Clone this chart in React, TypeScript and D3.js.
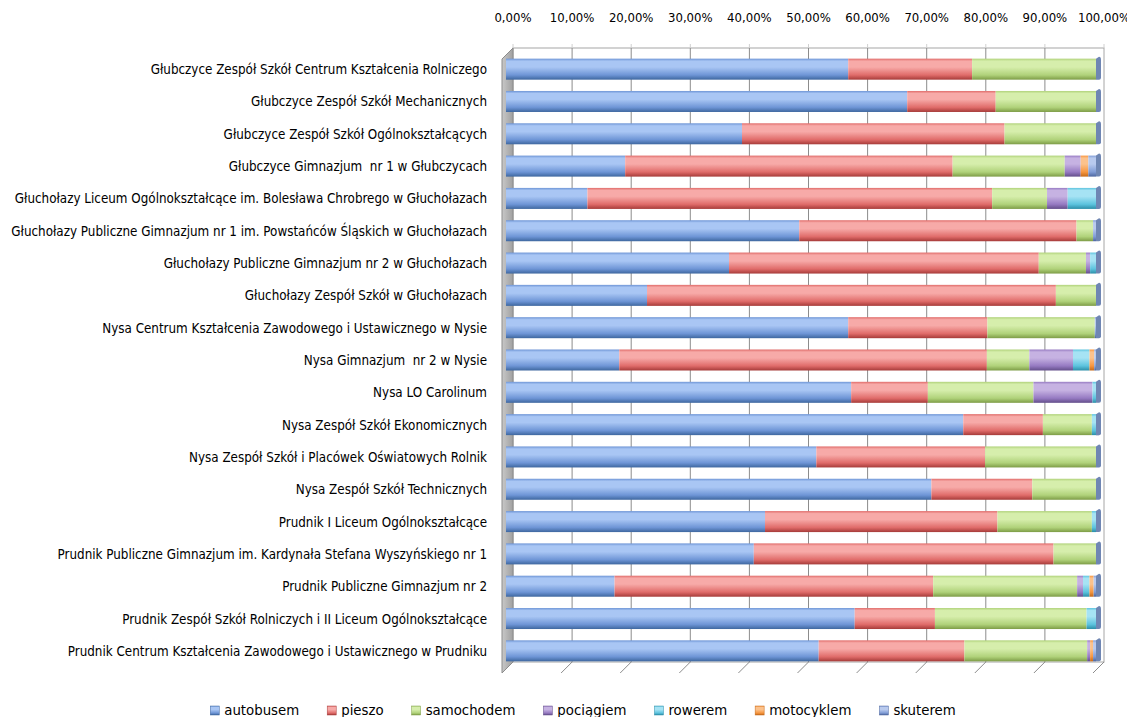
import React, { useEffect, useRef } from "react";
import * as d3 from "d3";

const categories = [
  "Głubczyce Zespół Szkół Centrum Kształcenia Rolniczego",
  "Głubczyce Zespół Szkół Mechanicznych",
  "Głubczyce Zespół Szkół Ogólnokształcących",
  "Głubczyce Gimnazjum  nr 1 w Głubczycach",
  "Głuchołazy Liceum Ogólnokształcące im. Bolesława Chrobrego w Głuchołazach",
  "Głuchołazy Publiczne Gimnazjum nr 1 im. Powstańców Śląskich w Głuchołazach",
  "Głuchołazy Publiczne Gimnazjum nr 2 w Głuchołazach",
  "Głuchołazy Zespół Szkół w Głuchołazach",
  "Nysa Centrum Kształcenia Zawodowego i Ustawicznego w Nysie",
  "Nysa Gimnazjum  nr 2 w Nysie",
  "Nysa LO Carolinum",
  "Nysa Zespół Szkół Ekonomicznych",
  "Nysa Zespół Szkół i Placówek Oświatowych Rolnik",
  "Nysa Zespół Szkół Technicznych",
  "Prudnik I Liceum Ogólnokształcące",
  "Prudnik Publiczne Gimnazjum im. Kardynała Stefana Wyszyńskiego nr 1",
  "Prudnik Publiczne Gimnazjum nr 2",
  "Prudnik Zespół Szkół Rolniczych i II Liceum Ogólnokształcące",
  "Prudnik Centrum Kształcenia Zawodowego i Ustawicznego w Prudniku",
];

const seriesNames = ["autobusem", "pieszo", "samochodem", "pociągiem", "rowerem", "motocyklem", "skuterem"];

const autobusem = [58, 68, 40, 20.2, 13.8, 49.7, 37.8, 23.9, 58, 19.2, 58.5, 77.5, 52.6, 72.1, 43.9, 42, 18.4, 59.1, 53];
const pieszo = [21, 15, 44.5, 55.5, 68.6, 47, 52.5, 69.3, 23.6, 62.3, 13, 13.5, 28.6, 17.1, 39.4, 50.8, 54, 13.6, 24.7];
const samochodem = [21, 17, 15.5, 19, 9.3, 2.8, 8, 6.8, 18.2, 7.2, 17.9, 8.3, 18.8, 10.8, 16, 7.2, 24.4, 25.7, 20.8];
const pociagiem = [0, 0, 0, 2.7, 3.5, 0, 0.7, 0, 0, 7.4, 10, 0, 0, 0, 0, 0, 1, 0, 0.5];
const rowerem = [0, 0, 0, 0, 4.8, 0, 1, 0, 0, 2.8, 0.6, 0.7, 0, 0, 0.7, 0, 1.1, 1.6, 0];
const motocyklem = [0, 0, 0, 1.3, 0, 0, 0, 0, 0, 0.8, 0, 0, 0, 0, 0, 0, 0.7, 0, 0.5];
const skuterem = [0, 0, 0, 1.3, 0, 0.5, 0, 0, 0.2, 0.3, 0, 0.5, 0, 0, 0, 0, 0.4, 0, 0.5];

const tickValues = [0, 10, 20, 30, 40, 50, 60, 70, 80, 90, 100];

const palette = [
  { light: "#a9c6f4", base: "#6e95d6", dark: "#3e679f" },
  { light: "#f7aaa8", base: "#e06c6a", dark: "#a63b39" },
  { light: "#d6eeac", base: "#b0d27a", dark: "#7d9c46" },
  { light: "#c6b2e2", base: "#967ac2", dark: "#634e8a" },
  { light: "#a6e3f4", base: "#5cc3de", dark: "#2c8ea8" },
  { light: "#fcc28c", base: "#f7963f", dark: "#c4691a" },
  { light: "#b9caee", base: "#809cd6", dark: "#4d669e" },
];

const FONT = "'DejaVu Sans Condensed', 'Liberation Sans', sans-serif";

export default function App() {
  const ref = useRef<SVGSVGElement | null>(null);

  useEffect(() => {
    const svg = d3.select(ref.current);
    svg.selectAll("*").remove();
    const W = 1135, H = 725;
    const values = [autobusem, pieszo, samochodem, pociagiem, rowerem, motocyklem, skuterem];
    const rows = categories.map((c, i) => {
      const o: any = { cat: c };
      seriesNames.forEach((s, k) => (o[s] = values[k][i]));
      return o;
    });
    const stacked = d3.stack().keys(seriesNames)(rows);

    const xBack = d3.scaleLinear().domain([0, 100]).range([513, 1104]);
    const xFront = d3.scaleLinear().domain([0, 100]).range([502, 1093]);
    const xBar = d3.scaleLinear().domain([0, 100]).range([506, 1096]);
    const y = d3.scaleBand().domain(categories).range([53, 667]).paddingInner(0.35).paddingOuter(0.175);
    const backTop = 48, backBottom = 662, frontBottom = 673;

    const defs = svg.append("defs");
    palette.forEach((p, k) => {
      const g = defs.append("linearGradient").attr("id", "g" + k).attr("x1", 0).attr("y1", 0).attr("x2", 0).attr("y2", 1);
      g.append("stop").attr("offset", 0).attr("stop-color", p.base);
      g.append("stop").attr("offset", 0.12).attr("stop-color", p.light);
      g.append("stop").attr("offset", 0.4).attr("stop-color", p.light);
      g.append("stop").attr("offset", 0.78).attr("stop-color", p.base);
      g.append("stop").attr("offset", 1).attr("stop-color", p.dark);
    });
    const wg = defs.append("linearGradient").attr("id", "wall").attr("x1", 0).attr("y1", 0).attr("x2", 1).attr("y2", 0);
    wg.append("stop").attr("offset", 0).attr("stop-color", "#c8c8c8");
    wg.append("stop").attr("offset", 1).attr("stop-color", "#a0a0a0");

    svg.append("rect").attr("width", W).attr("height", H).attr("fill", "#ffffff");

    // back wall
    svg.append("rect")
      .attr("x", xBack(0)).attr("y", backTop)
      .attr("width", xBack(100) - xBack(0)).attr("height", backBottom - backTop)
      .attr("fill", "#ffffff").attr("stroke", "#a6a6a6").attr("stroke-width", 1);
    svg.append("g").selectAll("line").data(tickValues.slice(1, -1)).join("line")
      .attr("x1", (d) => xBack(d)).attr("x2", (d) => xBack(d))
      .attr("y1", backTop).attr("y2", backBottom)
      .attr("stroke", "#8c8c8c").attr("stroke-width", 1);
    // top tick marks
    svg.append("g").selectAll("line").data(tickValues).join("line")
      .attr("x1", (d) => xBack(d)).attr("x2", (d) => xBack(d))
      .attr("y1", backTop - 4).attr("y2", backTop)
      .attr("stroke", "#d0d0d0").attr("stroke-width", 1);
    // left side wall
    svg.append("polygon")
      .attr("points", [[xFront(0), backTop + 11], [xBack(0), backTop], [xBack(0), backBottom], [xFront(0), frontBottom]].map((p) => p.join(",")).join(" "))
      .attr("fill", "url(#wall)").attr("stroke", "#8c8c8c").attr("stroke-width", 1);
    // floor diagonals
    svg.append("g").selectAll("line").data(tickValues).join("line")
      .attr("x1", (d) => xFront(d)).attr("y1", frontBottom)
      .attr("x2", (d) => xBack(d)).attr("y2", backBottom)
      .attr("stroke", "#8c8c8c").attr("stroke-width", 1);

    // bars
    const barH = y.bandwidth();
    stacked.forEach((layer, k) => {
      svg.append("g").selectAll("rect").data(layer).join("rect")
        .attr("x", (d) => xBar(d[0]))
        .attr("y", (d) => (y(d.data.cat as string) as number))
        .attr("width", (d) => Math.max(0, xBar(d[1]) - xBar(d[0])))
        .attr("height", barH)
        .attr("fill", `url(#g${k})`);
    });
    // end caps
    svg.append("g").selectAll("path").data(rows).join("path")
      .attr("d", (d) => {
        const y0 = y(d.cat) as number;
        const x1 = xBar(100);
        return `M${x1},${y0} l3,-2 q2,0 2,3 l0,${barH - 3} q0,2 -2,2 l-3,0 z`;
      })
      .attr("fill", "#6f86b3");

    // row labels
    svg.append("g").selectAll("text").data(categories).join("text")
      .attr("x", 487)
      .attr("y", (d) => (y(d) as number) + barH / 2 + 1)
      .attr("text-anchor", "end")
      .attr("dominant-baseline", "middle")
      .attr("font-family", FONT)
      .attr("font-size", 13.3)
      .attr("fill", "#000")
      .style("white-space", "pre")
      .text((d) => d);

    // top tick labels
    svg.append("g").selectAll("text").data(tickValues).join("text")
      .attr("x", (d) => xBack(d))
      .attr("y", 18)
      .attr("text-anchor", "middle")
      .attr("dominant-baseline", "middle")
      .attr("font-family", FONT)
      .attr("font-size", 13)
      .attr("fill", "#000")
      .text((d) => d3.format(".2f")(d).replace(".", ",") + "%");

    // legend
    const lg = svg.append("g");
    const items = seriesNames.map((s, k) => {
      const gi = lg.append("g");
      gi.append("rect").attr("x", 0).attr("y", -5).attr("width", 9).attr("height", 9)
        .attr("fill", `url(#g${k})`).attr("stroke", palette[k].dark).attr("stroke-width", 0.5);
      const t = gi.append("text").attr("x", 14).attr("y", 0)
        .attr("dominant-baseline", "middle")
        .attr("font-family", FONT)
        .attr("font-size", 14.8).attr("fill", "#000").text(s);
      const w = 14 + (t.node() as SVGTextElement).getComputedTextLength();
      return { gi, w };
    });
    const gap = 28;
    const total = d3.sum(items, (d) => d.w) + gap * (items.length - 1);
    let cx = 583 - total / 2;
    items.forEach((it) => {
      it.gi.attr("transform", `translate(${cx},711)`);
      cx += it.w + gap;
    });
  }, []);

  return <svg ref={ref} width={1135} height={725} style={{ display: "block", margin: "-8px" }} />;
}
